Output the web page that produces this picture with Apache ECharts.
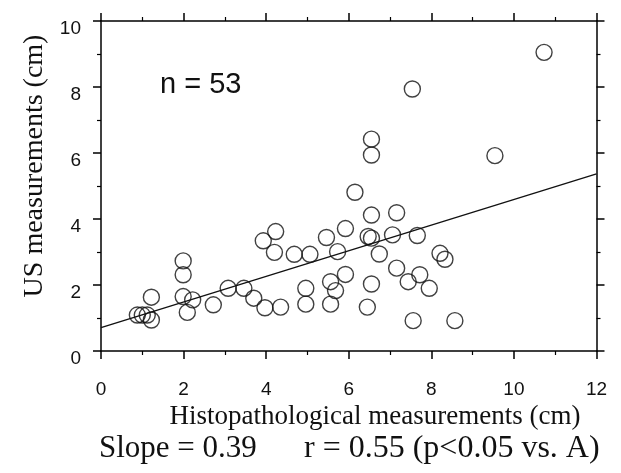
<!DOCTYPE html>
<html>
<head>
<meta charset="utf-8">
<script src="https://cdn.jsdelivr.net/npm/echarts@6/dist/echarts.min.js"></script>
<style>html,body{margin:0;padding:0;background:#fff;}#c{width:621px;height:473px;}</style>
</head>
<body>
<div id="c"></div>
<script>
// Histopathological measurements (cm)
var histoX = [0.88, 1.00, 1.12, 1.22, 1.22, 1.99, 1.99, 1.99, 2.09, 2.22, 2.72, 3.08, 3.46, 3.70, 3.97, 4.35,
  3.93, 4.23, 4.20, 4.68, 5.06, 4.96, 4.96, 5.46, 5.73, 5.92, 5.56, 5.68, 5.56, 5.92,
  6.55, 7.16, 6.47, 6.55, 7.06, 7.66, 6.74, 8.21, 8.33, 7.16, 6.55, 7.44, 7.72, 7.95, 6.45, 7.56, 8.57,
  10.73, 7.54, 6.55, 6.55, 9.54, 6.15];
// US measurements (cm)
var usY = [1.09, 1.09, 1.09, 0.94, 1.63, 2.73, 2.31, 1.65, 1.17, 1.55, 1.40, 1.90, 1.90, 1.60, 1.31, 1.33,
  3.34, 3.62, 2.99, 2.93, 2.93, 1.90, 1.42, 3.44, 3.01, 3.71, 2.10, 1.83, 1.42, 2.32,
  4.12, 4.19, 3.47, 3.42, 3.52, 3.50, 2.94, 2.96, 2.78, 2.51, 2.03, 2.10, 2.31, 1.90, 1.33, 0.92, 0.92,
  9.05, 7.94, 6.42, 5.94, 5.92, 4.81];
// regression line end points
var fitX = [0, 12];
var fitY = [0.71, 5.37];
var xTicks = [0, 2, 4, 6, 8, 10, 12];
var yTicks = [0, 2, 4, 6, 8, 10];
var nText = 'n = 53';
var xName = 'Histopathological measurements (cm)';
var yName = 'US measurements (cm)';
var slopeText = 'Slope = 0.39';
var rText = 'r = 0.55 (p<0.05 vs. A)';

var pts = histoX.map(function (x, i) { return [x, usY[i]]; });
var line = fitX.map(function (x, i) { return [x, fitY[i]]; });

var axisLine = { show: true, onZero: false, lineStyle: { color: '#000', width: 1.5 } };
var tickCommon = { show: true, inside: false, length: 8, lineStyle: { color: '#000', width: 1.5 } };
var minorCommon = { show: true, splitNumber: 2, length: 4, lineStyle: { color: '#000', width: 1.2 } };

var chart = echarts.init(document.getElementById('c'), null, { renderer: 'canvas' });
chart.setOption({
  backgroundColor: '#fff',
  animation: false,
  grid: { left: 101, right: 24.5, top: 21, bottom: 122 },
  xAxis: [
    { type: 'value', min: xTicks[0], max: xTicks[xTicks.length - 1], interval: 2, position: 'bottom',
      axisLine: axisLine, axisTick: tickCommon, minorTick: minorCommon, splitLine: { show: false },
      axisLabel: { show: true, margin: 29, color: '#111', fontFamily: 'Liberation Sans', fontSize: 19 } },
    { type: 'value', min: xTicks[0], max: xTicks[xTicks.length - 1], interval: 2, position: 'top',
      axisLine: axisLine, axisTick: tickCommon, minorTick: minorCommon, splitLine: { show: false },
      axisLabel: { show: false } }
  ],
  yAxis: [
    { type: 'value', min: yTicks[0], max: yTicks[yTicks.length - 1], interval: 2, position: 'left',
      axisLine: axisLine, axisTick: tickCommon, minorTick: minorCommon, splitLine: { show: false },
      axisLabel: { show: true, margin: 20, color: '#111', fontFamily: 'Liberation Sans', fontSize: 19,
        verticalAlign: 'top', lineHeight: 15 } },
    { type: 'value', min: yTicks[0], max: yTicks[yTicks.length - 1], interval: 2, position: 'right',
      axisLine: axisLine, axisTick: tickCommon, minorTick: minorCommon, splitLine: { show: false },
      axisLabel: { show: false } }
  ],
  series: [
    { type: 'line', data: line, symbol: 'none', lineStyle: { color: '#111', width: 1.3 }, z: 2 },
    { type: 'scatter', data: pts, symbol: 'circle', symbolSize: 16,
      itemStyle: { color: 'rgba(0,0,0,0)', borderColor: '#111', borderWidth: 1.4 }, z: 3 }
  ],
  graphic: [
    { type: 'text', x: 160, y: 85, style: { text: nText, font: '29px "Liberation Sans"', fill: '#111', textVerticalAlign: 'middle', textAlign: 'left' } },
    { type: 'text', x: 375, y: 417, style: { text: xName, font: '27px "Liberation Serif"', fill: '#111', textVerticalAlign: 'middle', textAlign: 'center' } },
    { type: 'text', x: 35, y: 166, rotation: Math.PI / 2, style: { text: yName, font: '28px "Liberation Serif"', fill: '#111', textVerticalAlign: 'middle', textAlign: 'center' } },
    { type: 'text', x: 99, y: 449, style: { text: slopeText, font: '31px "Liberation Serif"', fill: '#111', textVerticalAlign: 'middle', textAlign: 'left' } },
    { type: 'text', x: 304, y: 449, style: { text: rText, font: '32px "Liberation Serif"', fill: '#111', textVerticalAlign: 'middle', textAlign: 'left' } }
  ]
});
</script>
</body>
</html>
